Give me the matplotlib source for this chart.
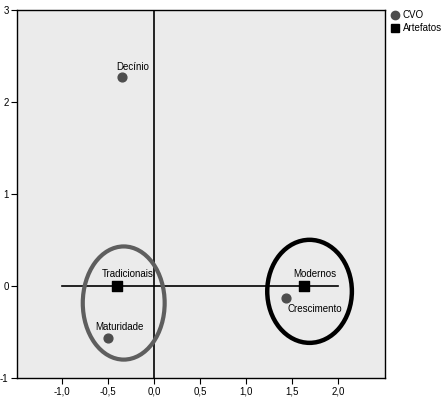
import matplotlib
matplotlib.use("Agg")
import matplotlib.pyplot as plt
from matplotlib.patches import Ellipse
from matplotlib.lines import Line2D

plt.rcParams['font.family'] = ['Liberation Sans', 'DejaVu Sans']

cvo_labels = ["Decínio", "Maturidade", "Crescimento"]
cvo_x = [-0.35, -0.50, 1.43]
cvo_y = [2.27, -0.565, -0.125]

art_labels = ["Tradicionais", "Modernos"]
art_x = [-0.40, 1.63]
art_y = [0.0, 0.0]

xticks = [-1.0, -0.5, 0.0, 0.5, 1.0, 1.5, 2.0]
xticklabels = ["-1,0", "-0,5", "0,0", "0,5", "1,0", "1,5", "2,0"]
yticks = [-1, 0, 1, 2, 3]

fig = plt.figure(figsize=(4.48, 4.01), dpi=100)
ax = fig.add_axes([17/448, 1 - 378/401, 368/448, 368/401])
ax.set_facecolor("#ebebeb")
ax.set_xlim(-1.49, 2.51)
ax.set_ylim(-1, 3)

ax.axvline(0, color="black", lw=1.2, zorder=2)
ax.plot([-1.0, 2.0], [0, 0], color="black", lw=1.2, zorder=2)

ax.scatter(cvo_x, cvo_y, s=40, color="#4d4d4d", marker="o", zorder=4)
ax.scatter(art_x, art_y, s=45, color="black", marker="s", zorder=4)

fs = 7
px = 0.72
def lab(x, y, t, dx, dy):
    ax.annotate(t, (x, y), xytext=(dx * px, dy * px), textcoords="offset points",
                ha="center", va="center", fontsize=fs, zorder=5)

lab(cvo_x[0], cvo_y[0], cvo_labels[0], 11, 10)
lab(cvo_x[1], cvo_y[1], cvo_labels[1], 11, 11)
lab(cvo_x[2], cvo_y[2], cvo_labels[2], 29, -11)
lab(art_x[0], art_y[0], art_labels[0], 10, 12)
lab(art_x[1], art_y[1], art_labels[1], 11, 12)

ax.add_patch(Ellipse((-0.33, -0.185), 0.89, 1.23, fill=False, edgecolor="#5e5e5e", lw=3, zorder=3))
ax.add_patch(Ellipse((1.69, -0.058), 0.92, 1.12, fill=False, edgecolor="black", lw=3.2, zorder=3))

ax.set_xticks(xticks)
ax.set_xticklabels(xticklabels, fontsize=fs)
ax.set_yticks(yticks)
ax.set_yticklabels([str(v) for v in yticks], fontsize=fs)
ax.tick_params(axis="both", length=4, width=0.8, pad=2)
for s in ax.spines.values():
    s.set_linewidth(1.0)

handles = [
    Line2D([], [], marker="o", color="#4d4d4d", linestyle="none", markersize=6),
    Line2D([], [], marker="s", color="black", linestyle="none", markersize=6),
]
fig.legend(handles, ["CVO", "Artefatos"], loc="upper left", bbox_to_anchor=(391/448, 1 - 10/401),
           frameon=False, fontsize=fs, handletextpad=0.4, labelspacing=0.3,
           handlelength=0.8, borderaxespad=0, borderpad=0)

fig.savefig("out.png", dpi=100)
